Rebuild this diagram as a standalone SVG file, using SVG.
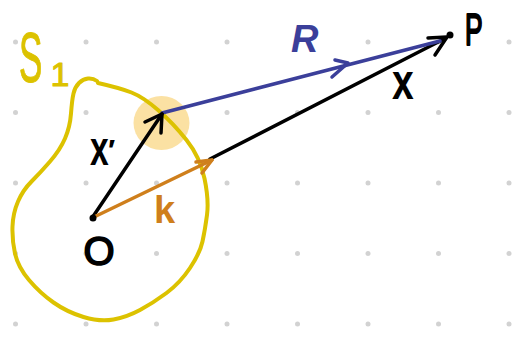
<svg xmlns="http://www.w3.org/2000/svg" width="513" height="343" viewBox="0 0 513 343">
<style>
.dot{fill:#d2d2d2}
.ln{fill:none;stroke-width:3.5;stroke-linecap:round;stroke-linejoin:round}
.blk{stroke:#000}
.blu{stroke:#3b3f9a}
.org{stroke:#cf7f1c}
.yel{fill:none;stroke:#dcc200;stroke-width:4;stroke-linecap:round;stroke-linejoin:round}
.t{font-family:"Liberation Sans","DejaVu Sans",sans-serif;stroke-linejoin:round}
</style>
<rect width="513" height="343" fill="#fff"/>
<g id="grid">
<g class="dot">
<circle cx="15.5" cy="42" r="2.5"/><circle cx="86" cy="42" r="2.5"/><circle cx="156.5" cy="42" r="2.5"/><circle cx="227" cy="42" r="2.5"/><circle cx="297.5" cy="42" r="2.5"/><circle cx="368" cy="42" r="2.5"/><circle cx="438.5" cy="42" r="2.5"/><circle cx="509" cy="42" r="2.5"/>
<circle cx="15.5" cy="112.5" r="2.5"/><circle cx="86" cy="112.5" r="2.5"/><circle cx="156.5" cy="112.5" r="2.5"/><circle cx="227" cy="112.5" r="2.5"/><circle cx="297.5" cy="112.5" r="2.5"/><circle cx="368" cy="112.5" r="2.5"/><circle cx="438.5" cy="112.5" r="2.5"/><circle cx="509" cy="112.5" r="2.5"/>
<circle cx="15.5" cy="183" r="2.5"/><circle cx="86" cy="183" r="2.5"/><circle cx="156.5" cy="183" r="2.5"/><circle cx="227" cy="183" r="2.5"/><circle cx="297.5" cy="183" r="2.5"/><circle cx="368" cy="183" r="2.5"/><circle cx="438.5" cy="183" r="2.5"/><circle cx="509" cy="183" r="2.5"/>
<circle cx="15.5" cy="253.5" r="2.5"/><circle cx="86" cy="253.5" r="2.5"/><circle cx="156.5" cy="253.5" r="2.5"/><circle cx="227" cy="253.5" r="2.5"/><circle cx="297.5" cy="253.5" r="2.5"/><circle cx="368" cy="253.5" r="2.5"/><circle cx="438.5" cy="253.5" r="2.5"/><circle cx="509" cy="253.5" r="2.5"/>
<circle cx="15.5" cy="324" r="2.5"/><circle cx="86" cy="324" r="2.5"/><circle cx="156.5" cy="324" r="2.5"/><circle cx="227" cy="324" r="2.5"/><circle cx="297.5" cy="324" r="2.5"/><circle cx="368" cy="324" r="2.5"/><circle cx="438.5" cy="324" r="2.5"/><circle cx="509" cy="324" r="2.5"/>
</g>
</g>
<g id="highlight">
<ellipse cx="161.5" cy="123" rx="28" ry="27" fill="#fbe1a3"/>
</g>
<g id="region-S1">
<path class="yel" d="M 98,83 Q 120,88 131.5,92.5 Q 143,97 158,110 Q 173,123 186.5,140 Q 200,157 204.5,178.5 Q 209,200 207,215 Q 205,230 202.5,241.5 Q 200,253 190,268 Q 180,283 166.5,293 Q 153,303 140,310 Q 127,317 113.5,319.5 Q 100,322 83.5,317 Q 67,312 53.5,302.5 Q 40,293 29,280 Q 18,267 15,253.5 Q 12,240 12.5,226.5 Q 13,213 18,201.5 Q 23,190 31.5,181.5 Q 40,173 50,161.5 Q 60,150 65,138.5 Q 70,127 71,113.5 Q 72,100 73.5,93.5 Q 75,87 79,83 Q 83,79 88,78.5 Q 93,78 97,81"/>
<text class="t" transform="translate(19,82) scale(0.5,1)" font-size="70" fill="#dcc200" stroke="#dcc200" stroke-width="1">S</text>
<text class="t" x="60" y="86" font-size="34" fill="#dcc200" stroke="#dcc200" stroke-width="1" text-anchor="middle">1</text>
</g>
<g id="connectors">
<path class="ln blk" d="M 210,159 L 446,38"/>
<path class="ln blk" d="M 428,38 L 447,37 L 435,55"/>
<path class="ln blu" d="M 162,113 L 440,41"/>
<path class="ln blu" d="M 335,60 L 348,63 L 332,77"/>
<path class="ln blk" d="M 92,218 L 162,114"/>
<path class="ln blk" d="M 145,122 L 162,114 L 161,133"/>
<path class="ln org" d="M 92,218 L 212,160"/>
<path class="ln org" d="M 196,162 L 212,160 L 202,173"/>
</g>
<g id="node-O">
<circle cx="93" cy="218" r="3.5" fill="#000"/>
<text class="t" x="99" y="265" font-size="40" text-anchor="middle" fill="#000" stroke="#000" stroke-width="1.6">O</text>
</g>
<g id="node-P">
<circle cx="450" cy="35" r="3.5" fill="#000"/>
<text class="t" transform="translate(465,45) scale(0.6,1)" font-size="44" fill="#000" stroke="#000" stroke-width="2.2">P</text>
</g>
<g id="labels">
<text class="t" transform="translate(90,165) scale(0.8,1.15)" font-size="42" font-weight="bold" fill="#000">x</text>
<text class="t" x="108" y="160" font-size="30" font-weight="bold" fill="#000">′</text>
<text class="t" x="154" y="223" font-size="38" font-weight="bold" fill="#cf7f1c">k</text>
<text class="t" x="291" y="52" font-size="38" font-weight="bold" font-style="italic" fill="#3b3f9a">R</text>
<text class="t" transform="translate(392,99) scale(0.85,1.1)" font-size="46" font-weight="bold" fill="#000">x</text>
</g>
</svg>
